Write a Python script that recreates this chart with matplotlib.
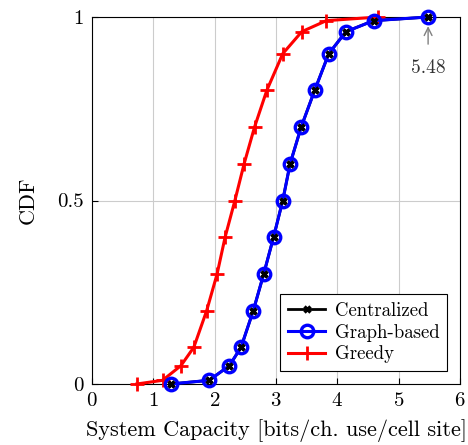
import matplotlib
matplotlib.use('Agg')
import matplotlib.pyplot as plt

# CDF levels and the matching capacities
cdf_central = [0, 0.01, 0.05, 0.1, 0.2, 0.3, 0.4, 0.5, 0.6, 0.7, 0.8, 0.9, 0.96, 0.99, 1.0]
cap_central = [1.28, 1.91, 2.24, 2.43, 2.63, 2.80, 2.96, 3.11, 3.23, 3.41, 3.63, 3.86, 4.14, 4.59, 5.48]

cdf_graph = cdf_central
cap_graph = cap_central

cdf_greedy = [0, 0.01, 0.05, 0.1, 0.2, 0.3, 0.4, 0.5, 0.6, 0.7, 0.8, 0.9, 0.96, 0.99, 1.0]
cap_greedy = [0.73, 1.15, 1.45, 1.66, 1.87, 2.04, 2.17, 2.33, 2.48, 2.65, 2.85, 3.11, 3.42, 3.82, 4.67]

x_ticks = [0, 1, 2, 3, 4, 5, 6]
y_ticks = [0, 0.5, 1]
y_tick_labels = ['0', '0.5', '1']

plt.rcParams['font.family'] = 'serif'
plt.rcParams['font.serif'] = ['cmr10', 'DejaVu Serif']
plt.rcParams['axes.formatter.use_mathtext'] = True
plt.rcParams['mathtext.fontset'] = 'cm'

fig = plt.figure(figsize=(4.68, 4.45), dpi=100)
ax = fig.add_axes([92 / 468, 61 / 445, 368 / 468, 367 / 445])

ax.grid(True, color='#cccccc', linewidth=0.8)
ax.set_axisbelow(True)

ax.plot(cap_central, cdf_central, color='black', marker='x', markersize=5,
        markeredgewidth=2.4, linewidth=2.0, label='Centralized', zorder=2,
        clip_on=False)
ax.plot(cap_graph, cdf_graph, color='blue', marker='o', markersize=9,
        markerfacecolor='none', markeredgewidth=2.4, linewidth=2.2,
        label='Graph-based', zorder=4, clip_on=False)
ax.plot(cap_greedy, cdf_greedy, color='red', marker='+', markersize=10,
        markeredgewidth=2.0, linewidth=2.2, label='Greedy', zorder=3,
        clip_on=False)
# black markers sit on top of the blue circles
ax.plot(cap_central, cdf_central, color='black', marker='x', markersize=5,
        markeredgewidth=2.4, linewidth=0, zorder=5, clip_on=False)

ax.annotate('5.48', xy=(5.48, 0.975), xytext=(5.48, 0.86),
            ha='center', va='center', fontsize=14, color='#333333',
            arrowprops=dict(arrowstyle='->', color='gray', lw=1.0,
                            shrinkA=9, shrinkB=0))

ax.set_xlim(0, 6)
ax.set_ylim(0, 1)
ax.set_xticks(x_ticks)
ax.set_yticks(y_ticks)
ax.set_yticklabels(y_tick_labels)
ax.tick_params(direction='in', labelsize=15, length=4, pad=6)
ax.set_xlabel('System Capacity [bits/ch. use/cell site]', fontsize=16, labelpad=6)
ax.set_ylabel('CDF', fontsize=16, labelpad=14)

leg = ax.legend(loc='lower right', fontsize=13.5, frameon=True, fancybox=False,
                edgecolor='black', framealpha=1, handlelength=2.0,
                borderaxespad=0.7, labelspacing=0.2, borderpad=0.4,
                handletextpad=0.5)
leg.get_frame().set_linewidth(0.8)

fig.savefig('out.png', dpi=100)
